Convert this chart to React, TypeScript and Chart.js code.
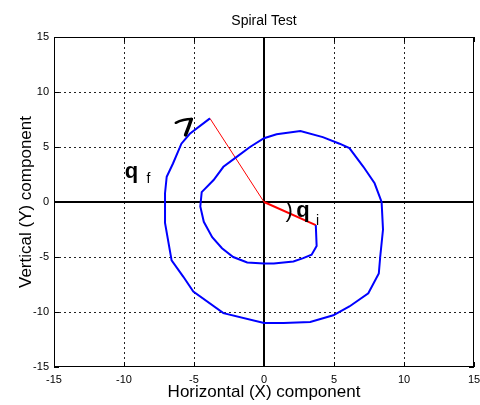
import React, { useEffect, useRef } from "react";
import { Chart, registerables } from "chart.js";

Chart.register(...registerables);

// Spiral path (data units)
const spiralX = [3.7, 3.76, 3.4, 2.8, 2.1, 0.7, 0, -1.2, -2.2, -3.0, -3.7, -4.3, -4.55, -4.45, -3.6, -2.9, -1.95, -1.0, 0, 0.9, 2.6, 4.2, 5.4, 6.1, 7.1, 7.9, 8.4, 8.5, 8.3, 8.2, 7.45, 6.1, 4.95, 3.3, 1.4, 0, -2.9, -5.05, -5.76, -6.6, -7.07, -7.07, -6.95, -6.5, -5.9, -5.3, -3.86];
const spiralY = [-2.1, -4.0, -4.8, -5.1, -5.4, -5.6, -5.6, -5.5, -5.0, -4.2, -3.2, -1.8, -0.4, 0.9, 2.0, 3.2, 4.1, 5.0, 5.8, 6.15, 6.45, 5.9, 5.3, 4.9, 3.2, 1.7, 0, -2.5, -5.0, -6.5, -8.3, -9.5, -10.3, -10.9, -11.0, -11.0, -10.1, -8.15, -6.8, -5.3, -1.9, 0.8, 2.3, 3.5, 5.3, 6.2, 7.6];

// Radius lines from origin
const rayFinalX = [0, -3.86];
const rayFinalY = [0, 7.6];
const rayInitX = [0, 3.7];
const rayInitY = [0, -2.1];

const axisMin = -15;
const axisMax = 15;
const tickValues = [-15, -10, -5, 0, 5, 10, 15];
const gridValues = [-10, -5, 5, 10];

const titleText = "Spiral Test";
const xTitle = "Horizontal (X) component";
const yTitle = "Vertical (Y) component";

const FONT = '"Liberation Sans", Arial, Helvetica, sans-serif';

const toPts = (xs: number[], ys: number[]) => xs.map((x, i) => ({ x, y: ys[i] }));

const decorPlugin = {
  id: "decor",
  beforeDatasetsDraw(chart: any) {
    const { ctx, chartArea, scales } = chart;
    const { left, right, top, bottom } = chartArea;
    const xs = scales.x;
    const ys = scales.y;
    ctx.save();
    // dashed grid
    ctx.strokeStyle = "#222";
    ctx.lineWidth = 1;
    ctx.setLineDash([2, 3]);
    gridValues.forEach((v) => {
      const px = Math.round(xs.getPixelForValue(v)) + 0.5;
      ctx.beginPath();
      ctx.moveTo(px, top);
      ctx.lineTo(px, bottom);
      ctx.stroke();
      const py = Math.round(ys.getPixelForValue(v)) + 0.5;
      ctx.beginPath();
      ctx.moveTo(left, py);
      ctx.lineTo(right, py);
      ctx.stroke();
    });
    ctx.setLineDash([]);
    ctx.strokeStyle = "#000";
    // inward tick marks
    tickValues.forEach((v) => {
      const px = Math.round(xs.getPixelForValue(v)) + 0.5;
      ctx.beginPath();
      ctx.moveTo(px, bottom);
      ctx.lineTo(px, bottom - 5);
      ctx.moveTo(px, top);
      ctx.lineTo(px, top + 5);
      ctx.stroke();
      const py = Math.round(ys.getPixelForValue(v)) + 0.5;
      ctx.beginPath();
      ctx.moveTo(left, py);
      ctx.lineTo(left + 5, py);
      ctx.moveTo(right, py);
      ctx.lineTo(right - 5, py);
      ctx.stroke();
    });
    // box
    ctx.strokeRect(left + 0.5, top + 0.5, right - left - 1, bottom - top - 1);
    // zero axes
    ctx.lineWidth = 2;
    const x0 = Math.round(xs.getPixelForValue(0));
    const y0 = Math.round(ys.getPixelForValue(0));
    ctx.beginPath();
    ctx.moveTo(x0, top);
    ctx.lineTo(x0, bottom);
    ctx.moveTo(left, y0);
    ctx.lineTo(right, y0);
    ctx.stroke();
    ctx.restore();
  },
  afterDatasetsDraw(chart: any) {
    const { ctx, chartArea, scales } = chart;
    const xs = scales.x;
    const ys = scales.y;
    const P = (x: number, y: number) => [xs.getPixelForValue(x), ys.getPixelForValue(y)];
    ctx.save();
    // title
    ctx.fillStyle = "#000";
    ctx.font = `14px ${FONT}`;
    ctx.textAlign = "center";
    ctx.textBaseline = "alphabetic";
    ctx.fillText(titleText, (chartArea.left + chartArea.right) / 2, 25);

    // theta labels (rendered as "q" like the reference)
    ctx.textAlign = "left";
    ctx.font = `bold 22px ${FONT}`;
    let [a, b] = P(-9.95, 2.2);
    ctx.fillText("q", a, b);
    [a, b] = P(2.3, -1.4);
    ctx.fillText("q", a, b);
    ctx.font = `14px ${FONT}`;
    [a, b] = P(-8.4, 1.7);
    ctx.fillText("f", a, b);
    [a, b] = P(3.72, -2.1);
    ctx.fillText("i", a, b);

    // arc mark near theta_i
    ctx.font = `22px ${FONT}`;
    ctx.textAlign = "center";
    ctx.textBaseline = "middle";
    [a, b] = P(1.8, -0.8);
    ctx.fillText(")", a, b);

    // arc mark near theta_f
    ctx.strokeStyle = "#000";
    ctx.lineCap = "round";
    ctx.lineWidth = 2.5;
    ctx.beginPath();
    let [p1x, p1y] = P(-6.3, 7.2);
    let [c1x, c1y] = P(-5.8, 7.55);
    let [p2x, p2y] = P(-5.15, 7.55);
    ctx.moveTo(p1x, p1y);
    ctx.quadraticCurveTo(c1x, c1y, p2x, p2y);
    ctx.stroke();
    ctx.lineWidth = 3.5;
    ctx.beginPath();
    [p1x, p1y] = P(-5.2, 7.5);
    [c1x, c1y] = P(-5.35, 6.9);
    [p2x, p2y] = P(-5.6, 6.1);
    ctx.moveTo(p1x, p1y);
    ctx.quadraticCurveTo(c1x, c1y, p2x, p2y);
    ctx.stroke();
    ctx.restore();
  },
};

export default function App() {
  const ref = useRef<HTMLCanvasElement | null>(null);
  useEffect(() => {
    if (!ref.current) return;
    const chart = new Chart(ref.current, {
      type: "scatter",
      data: {
        datasets: [
          {
            data: toPts(spiralX, spiralY),
            showLine: true,
            borderColor: "#0000ff",
            borderWidth: 2,
            pointRadius: 0,
            fill: false,
          },
          {
            data: toPts(rayFinalX, rayFinalY),
            showLine: true,
            borderColor: "#ff0000",
            borderWidth: 1,
            pointRadius: 0,
            fill: false,
          },
          {
            data: toPts(rayInitX, rayInitY),
            showLine: true,
            borderColor: "#ff0000",
            borderWidth: 2,
            pointRadius: 0,
            fill: false,
          },
        ],
      },
      options: {
        animation: false,
        responsive: false,
        layout: { padding: { left: 0, top: 37, right: 6, bottom: 0 } },
        plugins: { legend: { display: false }, tooltip: { enabled: false } },
        scales: {
          x: {
            type: "linear",
            min: axisMin,
            max: axisMax,
            afterFit: (s: any) => {
              s.height = 38;
              s.paddingRight = 0;
              s.paddingLeft = 0;
            },
            afterBuildTicks: (s: any) => {
              s.ticks = tickValues.map((v) => ({ value: v }));
            },
            grid: { display: false, drawTicks: false },
            border: { display: false },
            ticks: {
              padding: 6,
              color: "#000",
              font: { family: FONT, size: 11 },
              maxRotation: 0,
              autoSkip: false,
            },
            title: {
              display: true,
              text: xTitle,
              color: "#000",
              font: { family: FONT, size: 17 },
              padding: { top: 0, bottom: 2 },
            },
          },
          y: {
            type: "linear",
            min: axisMin,
            max: axisMax,
            afterFit: (s: any) => {
              s.width = 54;
              s.paddingTop = 0;
              s.paddingBottom = 0;
            },
            afterBuildTicks: (s: any) => {
              s.ticks = tickValues.map((v) => ({ value: v }));
            },
            grid: { display: false, drawTicks: false },
            border: { display: false },
            ticks: {
              padding: 5,
              color: "#000",
              font: { family: FONT, size: 11 },
              autoSkip: false,
            },
            title: {
              display: true,
              text: yTitle,
              color: "#000",
              font: { family: FONT, size: 17 },
              padding: { top: 16, bottom: 0 },
            },
          },
        },
      },
      plugins: [decorPlugin],
    });
    return () => chart.destroy();
  }, []);
  return (
    <div style={{ position: "absolute", left: 0, top: 0, width: 480, height: 405, background: "#fff" }}>
      <canvas ref={ref} width={480} height={405} style={{ width: 480, height: 405, display: "block" }} />
    </div>
  );
}
